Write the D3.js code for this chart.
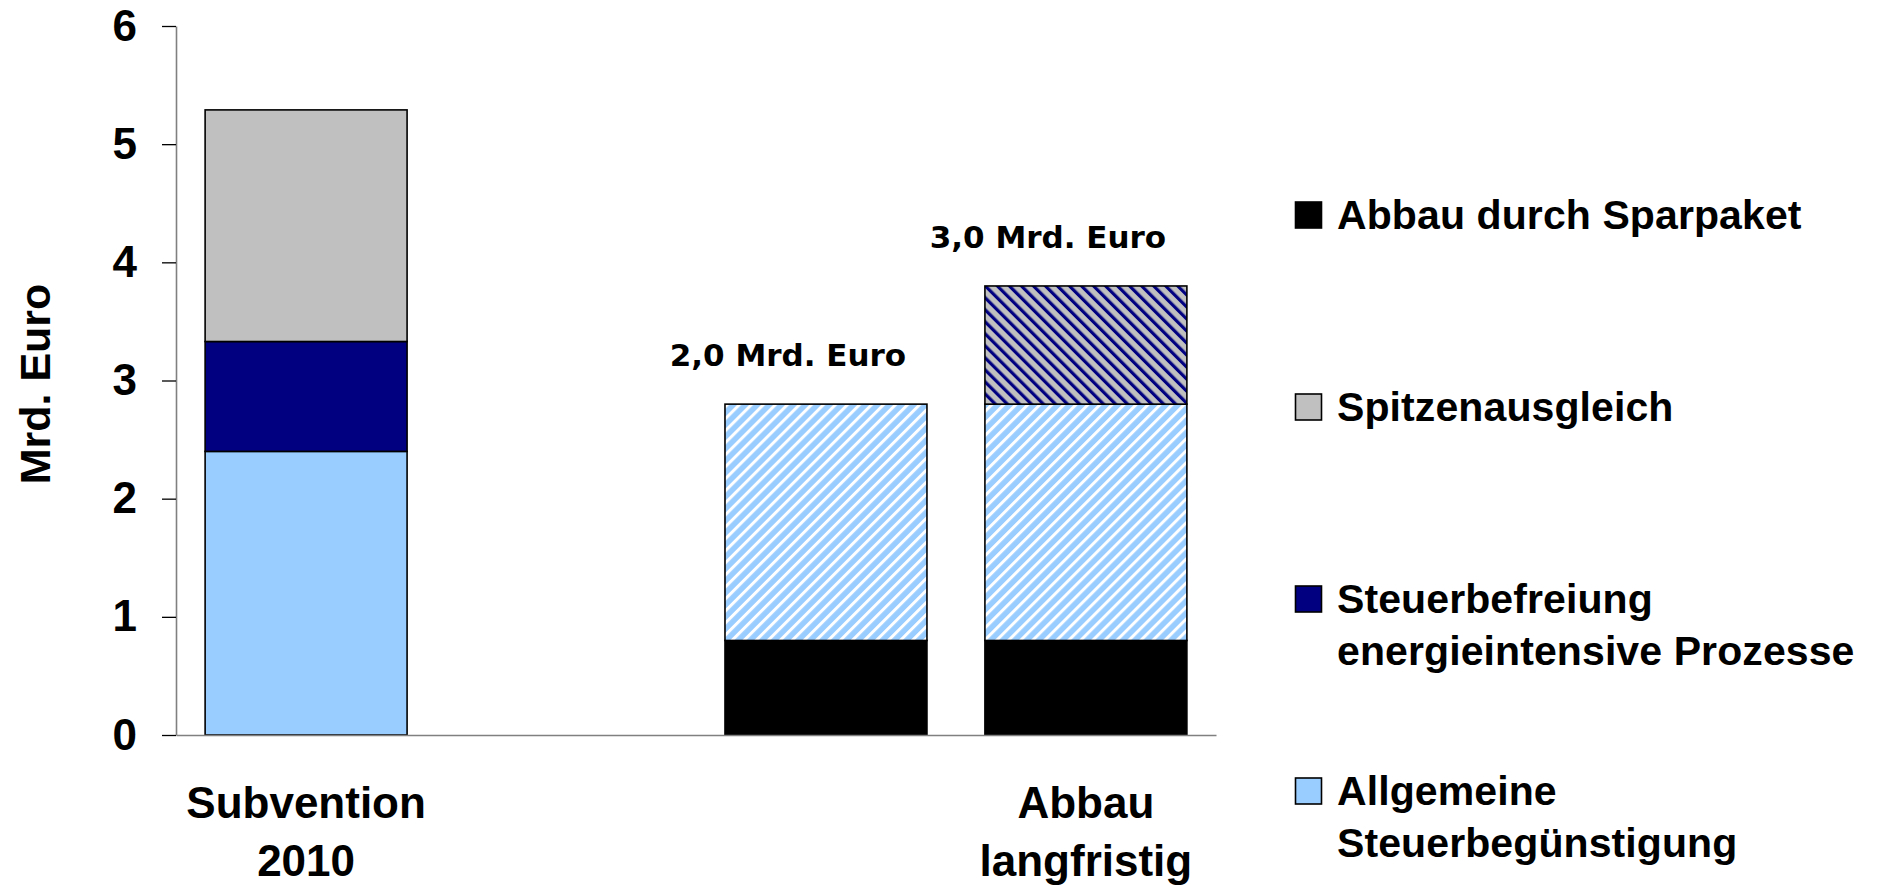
<!DOCTYPE html>
<html>
<head>
<meta charset="utf-8">
<script src="https://cdn.jsdelivr.net/npm/d3@7"></script>
<style>
  html, body { margin: 0; padding: 0; background: #fff; }
  svg { display: block; }
</style>
</head>
<body>
<svg id="chart" width="1887" height="885"></svg>
<script>
// ---- data ----
const categories = ["s2010", "gap", "abbau1", "abbau2"];
const categoryLabels = [["Subvention", "2010"], [], [], ["Abbau", "langfristig"]];
const hatched = [false, false, true, true];
const valueLabels = ["", "", "2,0 Mrd. Euro", "3,0 Mrd. Euro"];

const seriesNames = ["Abbau durch Sparpaket", "Allgemeine Steuerbegünstigung", "Steuerbefreiung energieintensive Prozesse", "Spitzenausgleich"];
const sparpaket      = [0,    0, 0.8, 0.8];
const allgemeine     = [2.4,  0, 2.0, 2.0];
const steuerbefreiung= [0.93, 0, 0,   1.0];
const spitzen        = [1.96, 0, 0,   0];

const yTicks = [0, 1, 2, 3, 4, 5, 6];
const yTitle = "Mrd. Euro";

const legendItems = [
  { key: 0, lines: ["Abbau durch Sparpaket"] },
  { key: 3, lines: ["Spitzenausgleich"] },
  { key: 2, lines: ["Steuerbefreiung", "energieintensive Prozesse"] },
  { key: 1, lines: ["Allgemeine", "Steuerbegünstigung"] }
];

// ---- styles ----
const colors = ["#000000", "#99ccff", "#000080", "#c0c0c0"];
const FONT = "'Liberation Sans', Arial, sans-serif";

const svg = d3.select("#chart");
const margin = { left: 176, right: 1216, top: 26, bottom: 735 };

const x = d3.scaleBand().domain(categories).range([margin.left, margin.right]).paddingInner(0.223).paddingOuter(0.112);
const y = d3.scaleLinear().domain([0, 6]).range([margin.bottom, margin.top]);

// patterns
const defs = svg.append("defs");
const pBlue = defs.append("pattern").attr("id", "hatchBlue").attr("patternUnits", "userSpaceOnUse")
  .attr("width", 8.5).attr("height", 8.5).attr("patternTransform", "rotate(45)");
pBlue.append("rect").attr("width", 8.5).attr("height", 8.5).attr("fill", colors[1]);
pBlue.append("rect").attr("x", 0).attr("width", 3).attr("height", 8.5).attr("fill", "#ffffff");

const pNavy = defs.append("pattern").attr("id", "hatchNavy").attr("patternUnits", "userSpaceOnUse")
  .attr("width", 8.5).attr("height", 8.5).attr("patternTransform", "rotate(-45)");
pNavy.append("rect").attr("width", 8.5).attr("height", 8.5).attr("fill", colors[3]);
pNavy.append("rect").attr("x", 0).attr("width", 3.2).attr("height", 8.5).attr("fill", colors[2]);

// stack
const rows = categories.map((c, i) => ({
  cat: c, i,
  s0: sparpaket[i], s1: allgemeine[i], s2: steuerbefreiung[i], s3: spitzen[i]
}));
const stack = d3.stack().keys(["s0", "s1", "s2", "s3"]);
const stacked = stack(rows);

function fillFor(si, ci) {
  if (!hatched[ci]) return colors[si];
  if (si === 1) return "url(#hatchBlue)";
  if (si === 2) return "url(#hatchNavy)";
  return colors[si];
}

const gBars = svg.append("g");
stacked.forEach((layer, si) => {
  gBars.selectAll(null)
    .data(layer.filter(d => d[1] - d[0] > 0))
    .join("rect")
    .attr("x", d => x(d.data.cat))
    .attr("width", x.bandwidth())
    .attr("y", d => y(d[1]))
    .attr("height", d => y(d[0]) - y(d[1]))
    .attr("fill", d => fillFor(si, d.data.i))
    .attr("stroke", "#000")
    .attr("stroke-width", 1.6);
});

// axes
const yAxis = svg.append("g")
  .attr("transform", `translate(${margin.left},0)`)
  .call(d3.axisLeft(y).tickValues(yTicks).tickFormat(d3.format("d")).tickSize(14).tickSizeOuter(0).tickPadding(25));
yAxis.select(".domain").attr("stroke", "#808080").attr("stroke-width", 1.6);
yAxis.selectAll(".tick line").attr("stroke", "#000").attr("stroke-width", 1.3);
yAxis.selectAll(".tick text").attr("font-family", FONT).attr("font-weight", "bold").attr("font-size", 44).attr("fill", "#000");

const xAxis = svg.append("g")
  .attr("transform", `translate(0,${margin.bottom})`)
  .call(d3.axisBottom(x).tickSize(0).tickSizeOuter(0).tickFormat(""));
xAxis.select(".domain").attr("stroke", "#808080").attr("stroke-width", 1.6);

// category labels
categories.forEach((c, i) => {
  const lines = categoryLabels[i];
  if (!lines.length) return;
  const t = svg.append("text")
    .attr("x", x(c) + x.bandwidth() / 2)
    .attr("y", 818)
    .attr("text-anchor", "middle")
    .attr("font-family", FONT).attr("font-weight", "bold").attr("font-size", 44);
  lines.forEach((l, k) => t.append("tspan").attr("x", x(c) + x.bandwidth() / 2).attr("dy", k === 0 ? 0 : 58).text(l));
});

// value labels
rows.forEach((r, i) => {
  if (!valueLabels[i]) return;
  const total = r.s0 + r.s1 + r.s2 + r.s3;
  svg.append("text")
    .attr("x", x(r.cat) + x.bandwidth() / 2 - 38)
    .attr("y", y(total) - 38)
    .attr("text-anchor", "middle")
    .attr("font-family", "'DejaVu Sans', Verdana, sans-serif")
    .attr("font-weight", "bold").attr("font-size", 31)
    .text(valueLabels[i]);
});

// y title
svg.append("text")
  .attr("transform", `translate(50,${384}) rotate(-90)`)
  .attr("text-anchor", "middle")
  .attr("font-family", FONT).attr("font-weight", "bold").attr("font-size", 43)
  .text(yTitle);

// legend
const lg = svg.append("g");
legendItems.forEach((it, k) => {
  const base = 229 + k * 192;
  lg.append("rect").attr("x", 1295.5).attr("y", base - 27).attr("width", 26).attr("height", 26)
    .attr("fill", colors[it.key]).attr("stroke", "#000").attr("stroke-width", 1.6);
  const t = lg.append("text").attr("x", 1337).attr("y", base)
    .attr("font-family", FONT).attr("font-weight", "bold").attr("font-size", 41).attr("letter-spacing", 0.1);
  it.lines.forEach((l, j) => t.append("tspan").attr("x", 1337).attr("dy", j === 0 ? 0 : 52).text(l));
});
</script>
</body>
</html>
